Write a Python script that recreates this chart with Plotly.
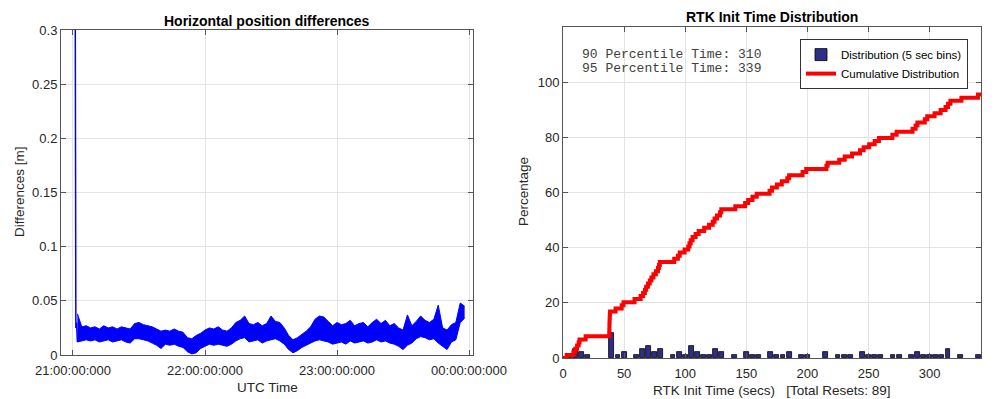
import numpy as np
import pandas as pd
import plotly.graph_objects as go

# ---------------- Left panel data: horizontal position differences ----------------
start_time = pd.Timestamp("2023-01-01 21:00:00")
# Initial convergence spike (minutes after 21:00, metres)
spike_minutes = [0.0, 0.5, 1.0, 1.3, 1.6]
spike_values = [0.45, 0.50, 0.35, 0.025, 0.030]
# Noisy band: low / high envelope every 2 minutes
band_minutes = list(range(2, 180, 2))
band_low = [0.012, 0.013, 0.014, 0.013, 0.014, 0.012, 0.013, 0.014, 0.012, 0.013,
            0.014, 0.012, 0.011, 0.015, 0.015, 0.014, 0.013, 0.011, 0.009, 0.006,
            0.010, 0.009, 0.010, 0.008, 0.007, 0.003, 0.001, 0.002, 0.006, 0.008,
            0.010, 0.009, 0.010, 0.009, 0.008, 0.010, 0.013, 0.015, 0.016, 0.012,
            0.013, 0.014, 0.011, 0.013, 0.014, 0.015, 0.013, 0.010, 0.005, 0.002,
            0.004, 0.007, 0.009, 0.011, 0.013, 0.014, 0.013, 0.012, 0.010, 0.011,
            0.012, 0.010, 0.013, 0.011, 0.012, 0.013, 0.011, 0.012, 0.014, 0.012,
            0.013, 0.011, 0.010, 0.008, 0.005, 0.009, 0.011, 0.015, 0.017, 0.016,
            0.014, 0.015, 0.011, 0.008, 0.005, 0.012, 0.014, 0.030, 0.034]
band_high = [0.038, 0.026, 0.027, 0.025, 0.026, 0.024, 0.027, 0.025, 0.026, 0.024,
             0.026, 0.025, 0.024, 0.029, 0.030, 0.028, 0.027, 0.026, 0.024, 0.022,
             0.023, 0.022, 0.024, 0.022, 0.021, 0.016, 0.015, 0.018, 0.020, 0.023,
             0.025, 0.024, 0.026, 0.023, 0.022, 0.025, 0.030, 0.032, 0.036, 0.029,
             0.028, 0.030, 0.027, 0.029, 0.036, 0.031, 0.030, 0.025, 0.018, 0.014,
             0.016, 0.019, 0.022, 0.026, 0.033, 0.036, 0.035, 0.031, 0.027, 0.030,
             0.028, 0.029, 0.032, 0.027, 0.029, 0.030, 0.026, 0.030, 0.033, 0.029,
             0.032, 0.027, 0.029, 0.025, 0.023, 0.037, 0.027, 0.031, 0.036, 0.032,
             0.030, 0.033, 0.046, 0.025, 0.023, 0.028, 0.030, 0.048, 0.045]
left_tick_times = ["2023-01-01 21:00:00", "2023-01-01 22:00:00",
                   "2023-01-01 23:00:00", "2023-01-02 00:00:00"]
left_tick_labels = ["21:00:00:000", "22:00:00:000", "23:00:00:000", "00:00:00:000"]
left_y_ticks = [0, 0.05, 0.1, 0.15, 0.2, 0.25, 0.3]
left_y_labels = ["0", "0.05", "0.1", "0.15", "0.2", "0.25", "0.3"]

# ---------------- Right panel data: RTK init times (seconds) ----------------
init_times = [3.0, 8.5, 10.0, 11.5, 12.8, 13.5, 18.5,
              37.8, 37.9, 38.0, 38.0, 38.1, 38.2, 38.3, 38.5,
              43.0, 48.0, 49.5, 58.5, 63.5, 65.5, 67.0,
              68.0, 69.5, 71.0, 72.3, 74.0, 76.0, 77.7, 78.5, 79.2,
              91.0, 94.0, 95.5, 99.5, 102.5, 103.5, 104.5, 106.0,
              108.5, 111.0, 115.5, 119.5, 122.5, 124.0, 126.0, 128.5, 129.5,
              141.0, 149.0, 151.5, 155.0, 158.5, 169.0, 171.0, 175.0, 179.0,
              183.5, 185.0, 196.0, 199.0, 215.5, 216.5, 226.0, 230.5, 236.5,
              243.0, 246.0, 250.5, 255.0, 258.5, 269.5, 273.0, 286.0, 288.5, 290.0,
              296.0, 298.0, 304.0, 309.0, 313.0, 315.0, 317.0, 326.0, 339.5,
              352.0, 368.0, 395.0, 430.0]
total_resets = 89
bin_size = 5
percentile_90 = 310
percentile_95 = 339
right_x_ticks = [0, 50, 100, 150, 200, 250, 300]
right_y_ticks = [0, 20, 40, 60, 80, 100]

# ---------------- Build traces ----------------
band_time = start_time + pd.to_timedelta(band_minutes, unit="m")
spike_time = start_time + pd.to_timedelta(spike_minutes, unit="m")

edges = np.arange(-bin_size / 2, 450 + bin_size, bin_size)
counts, _ = np.histogram(init_times, bins=edges)
centers = edges[:-1] + bin_size / 2
pct = counts / total_resets * 100
mask = counts > 0

sorted_t = np.sort(init_times)
cum_x = np.concatenate([[0], sorted_t])
cum_y = np.concatenate([[0], np.arange(1, len(sorted_t) + 1) / total_resets * 100])

fig = go.Figure()
fig.add_trace(go.Scatter(x=list(spike_time) + [band_time[0]],
                         y=spike_values + [band_low[0]], mode="lines",
                         line=dict(color="#0000ff", width=1.5),
                         showlegend=False, xaxis="x", yaxis="y"))
fig.add_trace(go.Scatter(x=band_time, y=band_low, mode="lines",
                         line=dict(color="#0000ff", width=1),
                         showlegend=False, xaxis="x", yaxis="y"))
fig.add_trace(go.Scatter(x=band_time, y=band_high, mode="lines",
                         line=dict(color="#0000ff", width=1),
                         fill="tonexty", fillcolor="#0000ff",
                         showlegend=False, xaxis="x", yaxis="y"))
fig.add_trace(go.Bar(x=centers[mask], y=pct[mask], width=bin_size * 0.8,
                     marker=dict(color="#2e2e88", line=dict(color="#000000", width=0.8)),
                     name="Distribution (5 sec bins)", xaxis="x2", yaxis="y2"))
fig.add_trace(go.Scatter(x=cum_x, y=cum_y, mode="lines", line_shape="hv",
                         line=dict(color="#ff0000", width=4),
                         name="Cumulative Distribution", xaxis="x2", yaxis="y2"))

axis_common = dict(showline=True, linecolor="#555555", linewidth=1, mirror="ticks",
                   ticks="inside", ticklen=5, tickcolor="#555555", automargin=False,
                   showgrid=True, gridcolor="#e3e3e3", gridwidth=1, zeroline=False,
                   tickfont=dict(family="Liberation Sans, Arial", size=13, color="#262626"))

fig.update_layout(
    width=1000, height=399,
    margin=dict(l=0, r=0, t=0, b=0, autoexpand=False),
    paper_bgcolor="white", plot_bgcolor="white",
    bargap=0,
    xaxis=dict(domain=[0.061, 0.473],
               range=["2023-01-01 20:54:33", "2023-01-02 00:01:48"],
               tickvals=left_tick_times, ticktext=left_tick_labels,
               ticklabelstandoff=3, **axis_common),
    yaxis=dict(domain=[0.1103, 0.9248], range=[0, 0.3],
               tickvals=left_y_ticks, ticktext=left_y_labels, **axis_common),
    xaxis2=dict(domain=[0.563, 0.981], range=[0, 342], anchor="y2",
                tickvals=right_x_ticks, ticklabelstandoff=3, **axis_common),
    yaxis2=dict(domain=[0.1028, 0.9323], range=[0, 120], anchor="x2",
                tickvals=right_y_ticks, **axis_common),
    legend=dict(x=0.968, y=0.902, xanchor="right", yanchor="top",
                bgcolor="white", bordercolor="#333333", borderwidth=1,
                font=dict(family="Liberation Sans, Arial", size=11.5, color="#000"),
                tracegroupgap=0, itemwidth=30, traceorder="normal"),
)

font_t = dict(family="Liberation Sans, Arial", size=14, color="#000")
font_a = dict(family="Liberation Sans, Arial", size=13.5, color="#262626")
font_m = dict(family="Liberation Mono, Courier New, monospace", size=13, color="#404040")

def ann(text, x, y, font, angle=0, xanchor="center"):
    fig.add_annotation(text=text, x=x / 1000, y=1 - y / 399, xref="paper", yref="paper",
                       showarrow=False, font=font, textangle=angle,
                       xanchor=xanchor, yanchor="middle")

ann("<b>Horizontal position differences</b>", 267, 21, font_t)
ann("<b>RTK Init Time Distribution</b>", 772, 17, font_t)
ann("UTC Time", 267, 387, font_a)
ann("Differences [m]", 19, 192, font_a, angle=-90)
ann("RTK Init Time (secs)   [Total Resets: %d]" % total_resets, 772, 390, font_a)
ann("Percentage", 523, 192, font_a, angle=-90)
ann("90 Percentile Time: %d" % percentile_90, 580, 54, font_m, xanchor="left")
ann("95 Percentile Time: %d" % percentile_95, 580, 68, font_m, xanchor="left")

fig.write_html("out.html", config={"displayModeBar": False},
               post_script="document.body.style.margin='0px';document.body.style.overflow='hidden';")
